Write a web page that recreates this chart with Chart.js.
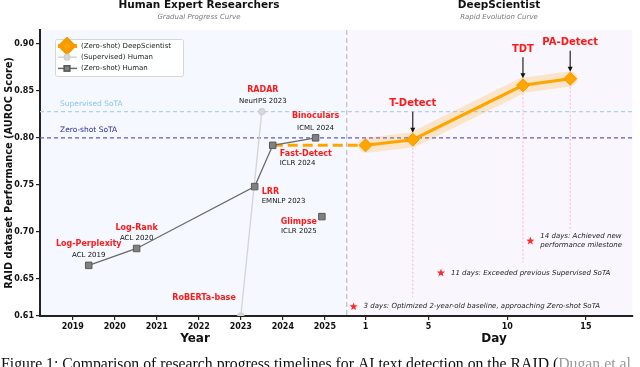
<!DOCTYPE html>
<html><head><meta charset="utf-8">
<script src="https://cdn.jsdelivr.net/npm/chart.js@4.4.1/dist/chart.umd.min.js"></script>
<style>html,body{margin:0;padding:0;background:#fff;overflow:hidden}canvas{display:block}</style>
</head><body>
<canvas id="c" width="640" height="367"></canvas>
<script>
// ---------------- DATA ----------------
const humanZeroShotMethods = ['Log-Perplexity', 'Log-Rank', 'LRR', 'Fast-Detect', 'Binoculars'];
const humanZeroShotVenues  = ['ACL 2019', 'ACL 2020', 'EMNLP 2023', 'ICLR 2024', 'ICML 2024'];
const humanZeroShotYears   = [2019.38, 2020.52, 2023.33, 2023.76, 2024.78];
const humanZeroShotAUROC   = [0.664, 0.682, 0.748, 0.792, 0.800];

const glimpseMethods = ['Glimpse'];
const glimpseVenues  = ['ICLR 2025'];
const glimpseYears   = [2024.93];
const glimpseAUROC   = [0.716];

const humanSupervisedMethods = ['RoBERTa-base', 'RADAR'];
const humanSupervisedVenues  = ['', 'NeurIPS 2023'];
const humanSupervisedYears   = [2023.0, 2023.5];
const humanSupervisedAUROC   = [0.610, 0.828];

const deepScientistMethods = ['', 'T-Detect', 'TDT', 'PA-Detect'];
const deepScientistDays    = [1, 4, 11, 14];
const deepScientistAUROC   = [0.792, 0.798, 0.856, 0.863];
const guideBottomAUROC     = [null, 0.630, 0.667, 0.700];

const supervisedSoTA = 0.828;
const zeroShotSoTA   = 0.800;

const yearTicks = [2019, 2020, 2021, 2022, 2023, 2024, 2025];
const dayTicks  = [1, 5, 10, 15];
const yTicks    = [0.61, 0.65, 0.70, 0.75, 0.80, 0.85, 0.90];

const milestoneDays  = [0.24, 5.79, 11.47];
const milestoneAUROC = [0.620, 0.656, 0.690];
const milestoneTexts = [
  ['3 days: Optimized 2-year-old baseline, approaching Zero-shot SoTA'],
  ['11 days: Exceeded previous Supervised SoTA'],
  ['14 days: Achieved new', 'performance milestone']
];

// ---------------- AXIS MAPPING (two panels on one axis) ----------------
const X_SPLIT = 309 / 597;
const YEAR_MIN = 2018.22, YEAR_MAX = 2025.52;
const DAY_MIN = -0.2, DAY_MAX = 17.96;
const yearX = v => X_SPLIT * (v - YEAR_MIN) / (YEAR_MAX - YEAR_MIN);
const dayX  = v => X_SPLIT + (1 - X_SPLIT) * (v - DAY_MIN) / (DAY_MAX - DAY_MIN);

const xTickValues = [...yearTicks.map(yearX), ...dayTicks.map(dayX)];
const xTickLabels = [...yearTicks.map(String), ...dayTicks.map(String)];

// label layout (offsets from point, px)
const zsLabelLayout = [
  {dx: 0, dy: -21, vdy: -10, align: 'center'},
  {dx: 0, dy: -21, vdy: -10, align: 'center'},
  {dx: 7, dy: 5, vdy: 15, align: 'left'},
  {dx: 7, dy: 9, vdy: 18, align: 'left'},
  {dx: 0, dy: -22, vdy: -10, align: 'center'}
];
const glLabelLayout = [{dx: -23, dy: 5, vdy: 15, align: 'center'}];
const supLabelLayout = [
  {dx: -5, dy: -18, vdy: 0, align: 'right'},
  {dx: 1, dy: -22, vdy: -10, align: 'center'}
];

const ORANGE = '#ffa500';
const FONT = '"DejaVu Sans", sans-serif';
Chart.defaults.font.family = FONT;

const pts = (xs, ys, fx) => xs.map((v, i) => ({x: fx(v), y: ys[i]}));

const datasets = [
  // pink guides
  ...deepScientistDays.map((d, i) => guideBottomAUROC[i] == null ? null : ({
    label: '_guide' + i,
    data: [{x: dayX(d), y: deepScientistAUROC[i]}, {x: dayX(d), y: guideBottomAUROC[i]}],
    showLine: true, borderColor: '#f6b8c8', borderWidth: 1, borderDash: [2, 2],
    pointRadius: 0, order: 20
  })).filter(Boolean),
  {
    label: '_band', data: pts(deepScientistDays, deepScientistAUROC, dayX),
    showLine: true, borderColor: 'rgba(255,165,0,0.2)', borderWidth: 15,
    borderJoinStyle: 'round', borderCapStyle: 'round', pointRadius: 0, order: 19
  },
  {
    label: '(Supervised) Human', data: pts(humanSupervisedYears, humanSupervisedAUROC, yearX),
    showLine: true, borderColor: '#d4d4d4', borderWidth: 1.3,
    pointStyle: 'circle', pointRadius: 3, pointBackgroundColor: '#d8d8d8', pointBorderColor: '#d0d0d0',
    order: 15
  },
  {
    label: '(Zero-shot) Human', data: pts(humanZeroShotYears, humanZeroShotAUROC, yearX),
    showLine: true, borderColor: '#6a6a6a', borderWidth: 1.3,
    pointStyle: 'rect', pointRadius: 4.6, pointBackgroundColor: '#808080', pointBorderColor: '#5a5a5a', pointBorderWidth: 1,
    order: 14
  },
  {
    label: '_glimpse', data: pts(glimpseYears, glimpseAUROC, yearX),
    showLine: false,
    pointStyle: 'rect', pointRadius: 4.6, pointBackgroundColor: '#808080', pointBorderColor: '#5a5a5a', pointBorderWidth: 1,
    order: 14
  },
  {
    label: '_connector',
    data: [{x: yearX(humanZeroShotYears[3]), y: humanZeroShotAUROC[3]}, {x: dayX(deepScientistDays[0]), y: deepScientistAUROC[0]}],
    showLine: true, borderColor: ORANGE, borderWidth: 3, borderDash: [10, 5], pointRadius: 0, order: 16
  },
  {
    label: '(Zero-shot) DeepScientist', data: pts(deepScientistDays, deepScientistAUROC, dayX),
    showLine: true, borderColor: ORANGE, borderWidth: 3,
    pointStyle: 'rectRot', pointRadius: 6.5, pointBackgroundColor: ORANGE, pointBorderColor: '#f59b00', pointBorderWidth: 1,
    order: 5
  }
];

function star(ctx, cx, cy, R, r) {
  ctx.beginPath();
  for (let k = 0; k < 10; k++) {
    const rad = k % 2 === 0 ? R : r;
    const a = -Math.PI / 2 + k * Math.PI / 5;
    const px = cx + rad * Math.cos(a), py = cy + rad * Math.sin(a);
    k === 0 ? ctx.moveTo(px, py) : ctx.lineTo(px, py);
  }
  ctx.closePath();
  ctx.fill();
}

function arrowDown(ctx, x, y1, y2) {
  ctx.strokeStyle = '#111'; ctx.fillStyle = '#111'; ctx.lineWidth = 1.1;
  ctx.beginPath(); ctx.moveTo(x, y1); ctx.lineTo(x, y2 - 4); ctx.stroke();
  ctx.beginPath(); ctx.moveTo(x - 2.5, y2 - 5); ctx.lineTo(x + 2.5, y2 - 5); ctx.lineTo(x, y2); ctx.closePath(); ctx.fill();
}

function txt(ctx, s, x, y, font, color, align) {
  ctx.font = font; ctx.fillStyle = color; ctx.textAlign = align || 'center'; ctx.textBaseline = 'middle';
  ctx.fillText(s, x, y);
}

const decor = {
  id: 'decor',
  beforeDraw(chart) {
    const {ctx, chartArea: a, scales: {x}} = chart;
    const sx = x.getPixelForValue(X_SPLIT);
    ctx.save();
    ctx.fillStyle = '#f5f8fe'; ctx.fillRect(a.left, a.top, sx - a.left, a.bottom - a.top);
    ctx.fillStyle = '#f9f6fd'; ctx.fillRect(sx, a.top, a.right - sx, a.bottom - a.top);
    ctx.restore();
  },
  beforeDatasetsDraw(chart) {
    const {ctx, chartArea: a, scales: {x, y}} = chart;
    ctx.save();
    // divider
    const sx = x.getPixelForValue(X_SPLIT);
    ctx.strokeStyle = '#c4c4c4'; ctx.lineWidth = 1.3; ctx.setLineDash([5, 3]);
    ctx.beginPath(); ctx.moveTo(sx, a.top); ctx.lineTo(sx, a.bottom); ctx.stroke();
    // SoTA lines
    const ys = y.getPixelForValue(supervisedSoTA);
    ctx.strokeStyle = '#a9d3f0'; ctx.lineWidth = 1.2; ctx.setLineDash([4, 3]);
    ctx.beginPath(); ctx.moveTo(a.left, ys); ctx.lineTo(a.right, ys); ctx.stroke();
    const yz = y.getPixelForValue(zeroShotSoTA);
    ctx.strokeStyle = '#5c5cc8'; ctx.lineWidth = 1.3;
    ctx.beginPath(); ctx.moveTo(a.left, yz); ctx.lineTo(a.right, yz); ctx.stroke();
    ctx.setLineDash([]);
    txt(ctx, 'Supervised SoTA', a.left + 20, ys - 8, '7.5px ' + FONT, '#8cc4ec', 'left');
    txt(ctx, 'Zero-shot SoTA', a.left + 20, yz - 8, '7.5px ' + FONT, '#2b2b9c', 'left');
    ctx.restore();
  },
  afterDatasetsDraw(chart) {
    const {ctx, scales: {x, y}} = chart;
    ctx.save();
    const lab = (names, venues, xs, vals, fx, layout) => {
      names.forEach((n, i) => {
        const px = x.getPixelForValue(fx(xs[i])), py = y.getPixelForValue(vals[i]);
        const L = layout[i];
        txt(ctx, n, px + L.dx, py + L.dy, 'bold 8px ' + FONT, '#ff1a1a', L.align);
        if (venues[i]) txt(ctx, venues[i], px + L.dx, py + L.vdy, '7px ' + FONT, '#111', L.align);
      });
    };
    lab(humanZeroShotMethods, humanZeroShotVenues, humanZeroShotYears, humanZeroShotAUROC, yearX, zsLabelLayout);
    lab(glimpseMethods, glimpseVenues, glimpseYears, glimpseAUROC, yearX, glLabelLayout);
    lab(humanSupervisedMethods, humanSupervisedVenues, humanSupervisedYears, humanSupervisedAUROC, yearX, supLabelLayout);

    // DeepScientist labels + arrows
    deepScientistMethods.forEach((n, i) => {
      if (!n) return;
      const px = x.getPixelForValue(dayX(deepScientistDays[i])), py = y.getPixelForValue(deepScientistAUROC[i]);
      txt(ctx, n, px, py - 36, 'bold 10px ' + FONT, '#ff1a1a', 'center');
      arrowDown(ctx, px, py - 28, py - 7);
    });

    // milestones
    milestoneTexts.forEach((lines, i) => {
      const px = x.getPixelForValue(dayX(milestoneDays[i])), py = y.getPixelForValue(milestoneAUROC[i]);
      ctx.fillStyle = '#ff2a2a';
      star(ctx, px, py, 4.2, 1.8);
      const n = lines.length;
      lines.forEach((s, k) => {
        txt(ctx, s, px + 10, py + (k - (n - 1) / 2) * 9, 'italic 7px ' + FONT, '#222', 'left');
      });
    });

    // legend
    const bx = 55.5, by = 39.5, bw = 128, bh = 37;
    ctx.fillStyle = 'rgba(255,255,255,0.9)'; ctx.strokeStyle = '#d6d6d6'; ctx.lineWidth = 1;
    ctx.beginPath(); ctx.roundRect(bx, by, bw, bh, 2); ctx.fill(); ctx.stroke();
    const items = ['(Zero-shot) DeepScientist', '(Supervised) Human', '(Zero-shot) Human']
      .map(l => chart.data.datasets.find(d => d.label === l));
    items.forEach((d, k) => {
      const ry = 46 + k * 11.2;
      ctx.strokeStyle = d.borderColor; ctx.lineWidth = k === 0 ? 4 : 1.5;
      ctx.beginPath(); ctx.moveTo(58, ry); ctx.lineTo(77, ry); ctx.stroke();
      Chart.helpers.drawPoint(ctx, {pointStyle: d.pointStyle, radius: k === 0 ? 6.5 : (k === 1 ? 2.6 : 3.8), borderWidth: 1}, 67, ry);
      ctx.fillStyle = d.pointBackgroundColor; ctx.strokeStyle = d.pointBorderColor;
      ctx.beginPath();
      Chart.helpers.drawPoint(ctx, {pointStyle: d.pointStyle, radius: k === 0 ? 6.5 : (k === 1 ? 2.6 : 3.8), borderWidth: 1}, 67, ry);
      txt(ctx, d.label, 81, ry, '7px ' + FONT, '#222', 'left');
    });
    ctx.restore();
  },
  afterDraw(chart) {
    const {ctx} = chart;
    ctx.save();
    txt(ctx, 'Human Expert Researchers', 199, 5.5, 'bold 10.5px ' + FONT, '#111');
    txt(ctx, 'Gradual Progress Curve', 199, 17, 'italic 7px ' + FONT, '#777');
    txt(ctx, 'DeepScientist', 499, 5.5, 'bold 10.5px ' + FONT, '#111');
    txt(ctx, 'Rapid Evolution Curve', 499, 17, 'italic 7px ' + FONT, '#777');
    txt(ctx, 'Year', 195, 339, 'bold 12px ' + FONT, '#111');
    txt(ctx, 'Day', 494, 339, 'bold 12px ' + FONT, '#111');
    ctx.translate(9, 173); ctx.rotate(-Math.PI / 2);
    txt(ctx, 'RAID dataset Performance (AUROC Score)', 0, 0, 'bold 9.8px ' + FONT, '#111');
    ctx.setTransform(1, 0, 0, 1, 0, 0);
    // caption
    const p1 = 'Figure 1: Comparison of research progress timelines for AI text detection on the RAID (';
    const p2 = 'Dugan et al';
    ctx.font = '14px "Liberation Serif"';
    const w = ctx.measureText(p1 + p2).width;
    const fs = 14 * 630 / w;
    ctx.font = fs + 'px "Liberation Serif"';
    ctx.textAlign = 'left'; ctx.textBaseline = 'alphabetic';
    ctx.fillStyle = '#111'; ctx.fillText(p1, 1, 369);
    const w1 = ctx.measureText(p1).width;
    ctx.fillStyle = '#9a9a9a'; ctx.fillText(p2, 1 + w1, 369);
    ctx.restore();
  }
};

new Chart(document.getElementById('c'), {
  type: 'scatter',
  data: {datasets},
  options: {
    responsive: false, animation: false, devicePixelRatio: 1,
    layout: {padding: {left: 0, right: 3, top: 30, bottom: 0}},
    plugins: {legend: {display: false}, tooltip: {enabled: false}},
    scales: {
      x: {
        type: 'linear', min: 0, max: 1,
        afterFit: s => { s.height = 51; },
        afterBuildTicks: s => { s.ticks = xTickValues.map(v => ({value: v})); },
        ticks: {autoSkip: false, maxRotation: 0, padding: 2, color: '#111',
          font: {size: 8, weight: 'bold'}, callback: (v, i) => xTickLabels[i]},
        grid: {display: true, drawOnChartArea: false, drawTicks: true, tickLength: 4, color: '#222', lineWidth: 1.2},
        border: {display: true, color: '#222', width: 2}
      },
      y: {
        type: 'linear', min: 0.61, max: 0.915,
        afterFit: s => { s.width = 40; },
        afterBuildTicks: s => { s.ticks = yTicks.map(v => ({value: v})); },
        ticks: {autoSkip: false, padding: 2, color: '#111',
          font: {size: 8, weight: 'bold'}, callback: v => v.toFixed(2)},
        grid: {display: true, drawOnChartArea: false, drawTicks: true, tickLength: 4, color: '#222', lineWidth: 1.2},
        border: {display: true, color: '#222', width: 2}
      }
    }
  },
  plugins: [decor]
});
</script>
</body></html>
